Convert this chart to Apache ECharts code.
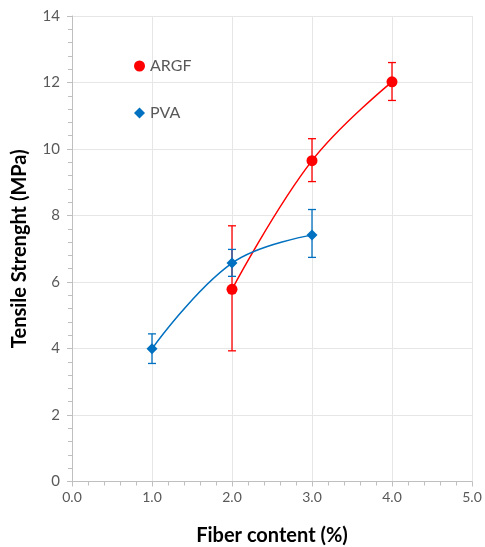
<!DOCTYPE html>
<html>
<head>
<meta charset="utf-8">
<script src="https://cdn.jsdelivr.net/npm/echarts@6/dist/echarts.min.js"></script>
<style>
    html, body { margin: 0; padding: 0; background: #fff; }
    #main { width: 485px; height: 547px; }
</style>
</head>
<body>
<div id="main"></div>
<script>
// data
const argfX = [2, 3, 4];
const argfY = [5.78, 9.65, 12.02];
const argfHigh = [7.69, 10.31, 12.6];
const argfLow = [3.93, 9.02, 11.46];
const pvaX = [1, 2, 3];
const pvaY = [3.99, 6.57, 7.41];
const pvaHigh = [4.44, 6.98, 8.18];
const pvaLow = [3.55, 6.17, 6.74];

const red = '#ff0000';
const blue = '#0070c0';
const labelFont = 'Lato, "Liberation Sans", sans-serif';

function pairs(xs, ys) {
    return xs.map(function (x, i) { return [x, ys[i]]; });
}
function errRows(xs, lo, hi) {
    return xs.map(function (x, i) { return [x, lo[i], hi[i]]; });
}

// custom error bar with small caps
function errorBar(color) {
    return function (params, api) {
        let x = api.value(0);
        let top = api.coord([x, api.value(2)]);
        let bot = api.coord([x, api.value(1)]);
        let cap = 4;
        let style = { stroke: color, lineWidth: 1.3 };
        return {
            type: 'group',
            children: [
                { type: 'line', shape: { x1: top[0], y1: top[1], x2: bot[0], y2: bot[1] }, style: style },
                { type: 'line', shape: { x1: top[0] - cap, y1: top[1], x2: top[0] + cap, y2: top[1] }, style: style },
                { type: 'line', shape: { x1: bot[0] - cap, y1: bot[1], x2: bot[0] + cap, y2: bot[1] }, style: style }
            ]
        };
    };
}

let chart = echarts.init(document.getElementById('main'));

const option = {
    animation: false,
    grid: { left: 72, right: 13, top: 16, bottom: 65.5, outerBoundsMode: 'none' },
    legend: {
        orient: 'vertical',
        left: 129,
        top: 53,
        itemGap: 31,
        itemWidth: 11,
        itemHeight: 11,
        textStyle: { color: '#595959', fontSize: 16, fontFamily: labelFont },
        data: [
            { name: 'ARGF', icon: 'circle' },
            { name: 'PVA', icon: 'diamond' }
        ]
    },
    xAxis: {
        type: 'value',
        min: 0,
        max: 5,
        interval: 1,
        name: 'Fiber content (%)',
        nameLocation: 'middle',
        nameGap: 44,
        nameTextStyle: { color: '#000', fontSize: 20, fontWeight: 'bold', fontFamily: labelFont },
        axisLine: { show: true, lineStyle: { color: '#bfbfbf' } },
        axisTick: { show: true, length: 5, lineStyle: { color: '#bfbfbf' } },
        minorTick: { show: true, splitNumber: 5, length: 4, lineStyle: { color: '#bfbfbf' } },
        axisLabel: {
            color: '#595959', fontSize: 14, fontFamily: labelFont, margin: 9,
            formatter: function (v) { return v.toFixed(1); }
        },
        splitLine: { show: true, lineStyle: { color: '#e6e6e6' } }
    },
    yAxis: {
        type: 'value',
        min: 0,
        max: 14,
        interval: 2,
        name: 'Tensile Strenght (MPa)',
        nameLocation: 'middle',
        nameGap: 42,
        nameTextStyle: { color: '#000', fontSize: 20, fontWeight: 'bold', fontFamily: labelFont },
        axisLine: { show: true, lineStyle: { color: '#bfbfbf' } },
        axisTick: { show: true, length: 5, lineStyle: { color: '#bfbfbf' } },
        minorTick: { show: true, splitNumber: 5, length: 4, lineStyle: { color: '#bfbfbf' } },
        axisLabel: { color: '#595959', fontSize: 15, fontFamily: labelFont, margin: 12 },
        splitLine: { show: true, lineStyle: { color: '#e6e6e6' } }
    },
    series: [
        {
            name: 'ARGF',
            type: 'line',
            smooth: 0.4,
            data: pairs(argfX, argfY),
            symbol: 'circle',
            symbolSize: 11,
            itemStyle: { color: red },
            lineStyle: { color: red, width: 1.5 },
            z: 4
        },
        {
            name: 'PVA',
            type: 'line',
            smooth: 0.4,
            data: pairs(pvaX, pvaY),
            symbol: 'diamond',
            symbolSize: 11,
            itemStyle: { color: blue },
            lineStyle: { color: blue, width: 1.5 },
            z: 4
        },
        {
            name: 'ARGF err',
            type: 'custom',
            renderItem: errorBar(red),
            encode: { x: 0, y: [1, 2] },
            data: errRows(argfX, argfLow, argfHigh),
            z: 3
        },
        {
            name: 'PVA err',
            type: 'custom',
            renderItem: errorBar(blue),
            encode: { x: 0, y: [1, 2] },
            data: errRows(pvaX, pvaLow, pvaHigh),
            z: 3
        }
    ]
};

chart.setOption(option);
</script>
</body>
</html>
